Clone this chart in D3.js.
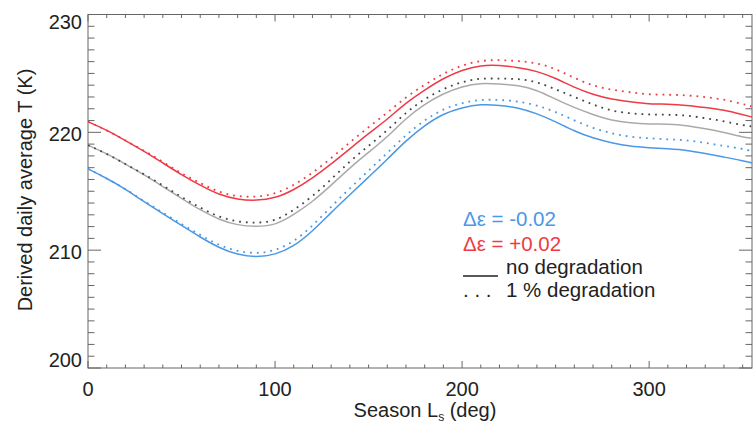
<!DOCTYPE html>
<html>
<head>
<meta charset="utf-8">
<script src="https://cdn.jsdelivr.net/npm/d3@7"></script>
<style>
  body { margin: 0; background: #fff; }
  text { font-family: "Liberation Sans", Arial, sans-serif; fill: #222; }
</style>
</head>
<body>
<script>
// season Ls (deg)
var ls = [0, 10, 20, 30, 40, 50, 60, 70, 80, 90, 100, 110, 120, 130, 140, 150, 160, 170, 180,
  190, 200, 210, 220, 230, 240, 250, 260, 270, 280, 290, 300, 310, 320, 330, 340, 350, 355];

// no degradation (solid)
var tNominal = [218.9, 218.2, 217.3, 216.4, 215.4, 214.4, 213.4, 212.6, 212.1, 212.0, 212.1, 213.0, 214.1,
  215.5, 217.0, 218.3, 219.6, 221.2, 222.4, 223.3, 223.9, 224.2, 224.1, 224.0, 223.6, 222.8, 222.1,
  221.5, 221.0, 220.8, 220.7, 220.7, 220.6, 220.3, 220.0, 219.6, 219.5];
var tPlus = [220.9, 220.2, 219.3, 218.4, 217.4, 216.4, 215.5, 214.7, 214.3, 214.2, 214.4, 215.1, 216.1,
  217.3, 218.6, 219.9, 221.1, 222.5, 223.6, 224.6, 225.3, 225.7, 225.7, 225.5, 225.2, 224.6, 223.8,
  223.2, 222.8, 222.6, 222.4, 222.4, 222.3, 222.1, 221.9, 221.5, 221.3];
var tMinus = [216.9, 216.1, 215.2, 214.1, 213.1, 212.1, 211.1, 210.2, 209.6, 209.4, 209.6, 210.3, 211.6,
  213.2, 214.7, 216.2, 217.7, 219.3, 220.6, 221.6, 222.1, 222.4, 222.3, 222.1, 221.6, 220.9, 220.1,
  219.5, 219.1, 218.8, 218.7, 218.6, 218.5, 218.2, 217.9, 217.6, 217.4];

// 1 % degradation (dotted)
var tNominalDeg = [218.9, 218.2, 217.3, 216.45, 215.5, 214.5, 213.6, 212.8, 212.4, 212.3, 212.45, 213.4, 214.55,
  216.0, 217.55, 218.85, 220.15, 221.7, 222.85, 223.7, 224.3, 224.6, 224.55, 224.55, 224.3, 223.65, 223.0,
  222.35, 221.8, 221.6, 221.5, 221.5, 221.45, 221.2, 220.95, 220.6, 220.5];
var tPlusDeg = [220.9, 220.2, 219.3, 218.45, 217.5, 216.5, 215.7, 214.9, 214.55, 214.5, 214.75, 215.5, 216.55,
  217.8, 219.15, 220.45, 221.65, 223.0, 224.05, 225.0, 225.7, 226.1, 226.15, 226.05, 225.9, 225.4, 224.6,
  223.95, 223.6, 223.4, 223.2, 223.2, 223.15, 223.0, 222.8, 222.4, 222.2];
var tMinusDeg = [216.9, 216.1, 215.2, 214.15, 213.2, 212.2, 211.3, 210.4, 209.9, 209.7, 209.95, 210.7, 212.05,
  213.7, 215.25, 216.75, 218.25, 219.8, 221.05, 222.0, 222.5, 222.8, 222.75, 222.65, 222.3, 221.75, 221.0,
  220.35, 219.9, 219.6, 219.5, 219.4, 219.35, 219.1, 218.85, 218.6, 218.4];

var xTicks = [0, 100, 200, 300];
var yTicks = [200, 210, 220, 230];

var red = "#ee3b45", blue = "#4a98e6";

var svg = d3.select("body").append("svg").attr("width", 753).attr("height", 426);

var x = d3.scaleLinear().domain([0, 355]).range([88, 752]);
var y = d3.scaleLinear().domain([200, 230]).range([368, 14.5]);

var axisColor = "#666";

// frame
svg.append("rect")
  .attr("x", x(0)).attr("y", y(230))
  .attr("width", x(355) - x(0)).attr("height", y(200) - y(230))
  .attr("fill", "none").attr("stroke", axisColor).attr("stroke-width", 1);

// minor + major ticks on all four sides
var xMinor = d3.range(0, 356, 10);
var yMinor = d3.range(200, 231, 1);

function tickLenX(d) { return d % 100 === 0 ? 7 : 3.5; }
function tickLenY(d) { return d % 10 === 0 ? 13 : 6.5; }

var ticks = svg.append("g").attr("stroke", axisColor).attr("stroke-width", 1);
xMinor.forEach(function (d) {
  ticks.append("line").attr("x1", x(d)).attr("x2", x(d))
    .attr("y1", y(200)).attr("y2", y(200) - tickLenX(d));
  ticks.append("line").attr("x1", x(d)).attr("x2", x(d))
    .attr("y1", y(230)).attr("y2", y(230) + tickLenX(d));
});
yMinor.forEach(function (d) {
  ticks.append("line").attr("x1", x(0)).attr("x2", x(0) + tickLenY(d))
    .attr("y1", y(d)).attr("y2", y(d));
  ticks.append("line").attr("x1", x(355)).attr("x2", x(355) - tickLenY(d))
    .attr("y1", y(d)).attr("y2", y(d));
});

// tick labels (end labels pulled inside the axis range)
svg.selectAll(".xlab").data(xTicks).enter().append("text")
  .attr("x", function (d) { return x(d); })
  .attr("y", 396)
  .attr("text-anchor", "middle")
  .attr("font-size", 20)
  .text(function (d) { return d; });

var yShift = { 200: -1, 210: 8.5, 220: 8.5, 230: 14 };
svg.selectAll(".ylab").data(yTicks).enter().append("text")
  .attr("x", 82)
  .attr("y", function (d) { return y(d) + yShift[d]; })
  .attr("text-anchor", "end")
  .attr("font-size", 20)
  .text(function (d) { return d; });

// axis titles
var xt = svg.append("text").attr("x", 425).attr("y", 417)
  .attr("text-anchor", "middle").attr("font-size", 20);
xt.append("tspan").text("Season L");
xt.append("tspan").attr("font-size", 12).attr("dy", 4).text("s");
xt.append("tspan").attr("dy", -4).text(" (deg)");

svg.append("text")
  .attr("transform", "translate(32,190) rotate(-90)")
  .attr("text-anchor", "middle")
  .attr("font-size", 20)
  .text("Derived daily average T (K)");

// curves
var line = d3.line()
  .x(function (d, i) { return x(ls[i]); })
  .y(function (d) { return y(d); })
  .curve(d3.curveBasis);

var series = [
  { values: tNominal, color: "#aaaaaa", dotted: false },
  { values: tPlus, color: red, dotted: false },
  { values: tMinus, color: blue, dotted: false },
  { values: tNominalDeg, color: "#444444", dotted: true },
  { values: tPlusDeg, color: red, dotted: true },
  { values: tMinusDeg, color: blue, dotted: true }
];

svg.append("defs").append("clipPath").attr("id", "clip")
  .append("rect").attr("x", x(0)).attr("y", y(230))
  .attr("width", x(355) - x(0)).attr("height", y(200) - y(230));

svg.append("g").attr("clip-path", "url(#clip)")
  .selectAll("path").data(series).enter().append("path")
  .attr("d", function (d) { return line(d.values); })
  .attr("fill", "none")
  .attr("stroke", function (d) { return d.color; })
  .attr("stroke-width", function (d) { return d.dotted ? 1.8 : 1.5; })
  .attr("stroke-dasharray", function (d) { return d.dotted ? "1.8,5" : null; });

// legend
var lg = svg.append("g").attr("font-size", 20.5);
lg.append("text").attr("x", 463).attr("y", 226).style("fill", blue).text("\u0394\u03b5 = -0.02");
lg.append("text").attr("x", 463).attr("y", 251).style("fill", red).text("\u0394\u03b5 = +0.02");
lg.append("line").attr("x1", 463).attr("x2", 498).attr("y1", 276).attr("y2", 276)
  .attr("stroke", "#222").attr("stroke-width", 1.5);
lg.append("text").attr("x", 506).attr("y", 274).text("no degradation");
lg.append("text").attr("x", 463).attr("y", 297).text(". . .");
lg.append("text").attr("x", 506).attr("y", 297).text("1 % degradation");
</script>
</body>
</html>
